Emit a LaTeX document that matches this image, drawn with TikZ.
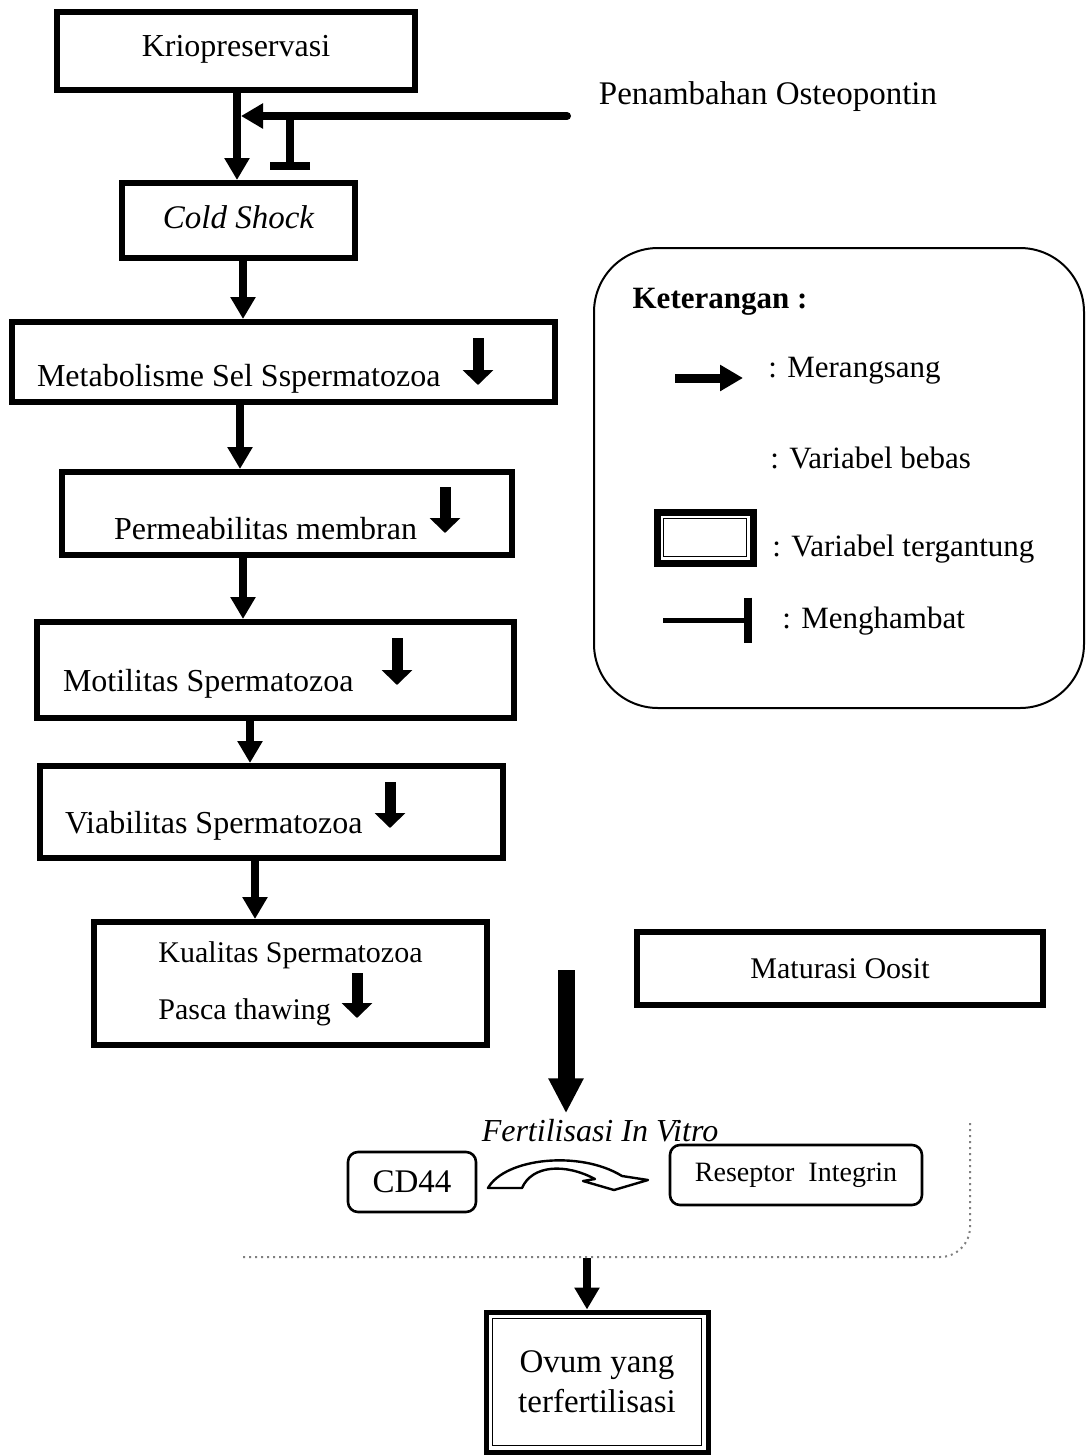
\documentclass[tikz,border=0pt]{standalone}
\usepackage{fontspec}
\setmainfont{Liberation Serif}
\usepackage{tikz}
\usetikzlibrary{arrows.meta,positioning}

\begin{document}
\begin{tikzpicture}[x=0.5pt,y=-0.5pt]
    %styles
    \tikzstyle{kotak}=[rectangle,draw,line width=3pt,inner sep=0pt,align=center,font=\fontsize{16}{20}\selectfont]
    \tikzstyle{bulat}=[rectangle,rounded corners=5pt,draw,line width=1.3pt,inner sep=0pt,align=center,font=\fontsize{16.5}{20}\selectfont]
    \tikzstyle{teks}=[inner sep=0pt,font=\fontsize{16.5}{20}\selectfont]
    \tikzstyle{panah}=[-{Triangle[length=11pt,width=12pt]},line width=4pt]
    \tikzstyle{panahbesar}=[-{Triangle[length=17.5pt,width=16.5pt]},line width=8.5pt]
    \tikzstyle{hambat}=[-{Bar[width=20pt,line width=4pt]},line width=4pt]
    \tikzstyle{turun}=[-{Triangle[length=7.5pt,width=15pt]},line width=5.5pt]
    \useasboundingbox (0,0) rectangle (1086,1456);
    %nodes
    \node[kotak,minimum width=179pt,minimum height=39pt,text height=5.6pt,text depth=0pt] (krio) at (236,51) {Kriopreservasi};
    \node[teks] (osteo) at (768,97) {Penambahan Osteopontin};
    \node[kotak,minimum width=116.5pt,minimum height=37.5pt,text height=7.6pt,text depth=0pt,font=\fontsize{16.5}{20}\selectfont\itshape] (cold) at (238.5,220.5) {Cold Shock};
    \node[kotak,minimum width=271.5pt,minimum height=40pt,text height=24.6pt,text depth=0pt] (met) at (283.5,362) {\makebox[246.5pt][l]{Metabolisme Sel Sspermatozoa}};
    \node[kotak,minimum width=225pt,minimum height=41.5pt,text height=26.1pt,text depth=0pt] (perm) at (287,513.5) {\makebox[173pt][l]{Permeabilitas membran}};
    \node[kotak,minimum width=238.5pt,minimum height=48pt,text height=21.6pt,text depth=0pt] (mot) at (275.5,670) {\makebox[212.5pt][l]{Motilitas Spermatozoa}};
    \node[kotak,minimum width=231.5pt,minimum height=46pt,text height=21.6pt,text depth=0pt] (via) at (271.5,812) {\makebox[206.5pt][l]{Viabilitas Spermatozoa}};
    \node[kotak,minimum width=196.5pt,minimum height=61.5pt,align=left,font=\fontsize{15}{28.5}\selectfont] (kual) at (290.5,983.5) {Kualitas Spermatozoa\\Pasca thawing};
    \node[kotak,minimum width=203pt,minimum height=36.5pt,font=\fontsize{15}{18}\selectfont] (matur) at (840,968.5) {Maturasi Oosit};
    \node[teks,font=\fontsize{16}{20}\selectfont\itshape] (fiv) at (600,1131) {Fertilisasi In Vitro};
    \node[bulat,minimum width=64pt,minimum height=30pt] (cd) at (412,1182) {CD44};
    \node[bulat,minimum width=126pt,minimum height=30pt,font=\fontsize{14}{18}\selectfont] (res) at (796,1175) {Reseptor\ \ Integrin};
    \node[kotak,line width=2.5pt,minimum width=111pt,minimum height=70pt,font=\fontsize{16.5}{20}\selectfont] (ovum) at (597,1382) {Ovum yang\\terfertilisasi};
    \draw[line width=0.8pt] ([shift={(4.5pt,-4.5pt)}]ovum.north west) rectangle ([shift={(-4.5pt,4.5pt)}]ovum.south east);

    %legend
    \draw[line width=1pt,rounded corners=32pt] (594,248) rectangle (1084,708);
    \node[teks,font=\fontsize{15.5}{20}\selectfont\bfseries] (ket) at (720,302) {Keterangan :};
    \node[teks,anchor=west,font=\fontsize{15.5}{20}\selectfont] (l1) at (768,371) {: Merangsang};
    \node[teks,anchor=west,font=\fontsize{15.5}{20}\selectfont] (l2) at (770,458) {: Variabel bebas};
    \node[teks,anchor=west,font=\fontsize{15.5}{20}\selectfont] (l3) at (772,549) {: Variabel tergantung};
    \node[teks,anchor=west,font=\fontsize{15.5}{20}\selectfont] (l4) at (782,621) {: Menghambat};
    \node[draw,line width=3.5pt,minimum width=48pt,minimum height=25.5pt,inner sep=0pt] (contoh) at (705,537.5) {};
    \draw[line width=0.8pt] ([shift={(5pt,-5pt)}]contoh.north west) rectangle ([shift={(-5pt,5pt)}]contoh.south east);
    \draw[-{Triangle[length=11.5pt,width=12.5pt]},line width=4.5pt] (675,378) -- (743,378);
    \draw[-{Bar[width=22.5pt,line width=4pt]},line width=2.5pt] (663,620) -- (752,620);

    %arrows
    \draw[panah] (krio.south -| 237,0) -- (cold.north -| 237,0);
    \coordinate (p0) at (567,116);
    \coordinate (temu) at (241,116);
    \draw[panah,line cap=round] (p0) -- (temu);
    \coordinate (t0) at (290,116);
    \coordinate (t1) at (290,170);
    \draw[hambat] (t0) -- (t1);
    \draw[panah] (cold.south -| 243,0) -- (met.north -| 243,0);
    \draw[panah] (met.south -| 240,0) -- (perm.north -| 240,0);
    \draw[panah] (perm.south -| 243,0) -- (mot.north -| 243,0);
    \draw[panah] (mot.south -| 250,0) -- (via.north -| 250,0);
    \draw[panah] (via.south -| 255,0) -- (kual.north -| 255,0);
    \coordinate (mulai) at (566,970);
    \draw[panahbesar,shorten >=3pt] (mulai) -- (fiv.north -| mulai);
    \coordinate (bawah) at (587,1258);
    \draw[panah] (bawah) -- (ovum.north -| bawah);

    %down marks
    \draw[turun] (478,338) -- (478,385);
    \draw[turun] (445,487) -- (445,533);
    \draw[turun] (397,638) -- (397,685);
    \draw[turun] (390,782) -- (390,828);
    \draw[turun] (357,973) -- (357,1018);

    %curved arrow cd44 -> integrin
    \draw[line width=1.2pt,line join=round] (488,1188) .. controls (505,1158) and (580,1150) .. (622,1176) -- (648,1180) -- (614,1190) -- (583,1181) -- (595,1179) .. controls (565,1163) and (532,1165) .. (522,1188) -- cycle;

    %frame
    \draw[gray,dotted,line width=1pt,rounded corners=15pt] (970,1123) -- (970,1257) -- (240,1257);
\end{tikzpicture}
\end{document}
